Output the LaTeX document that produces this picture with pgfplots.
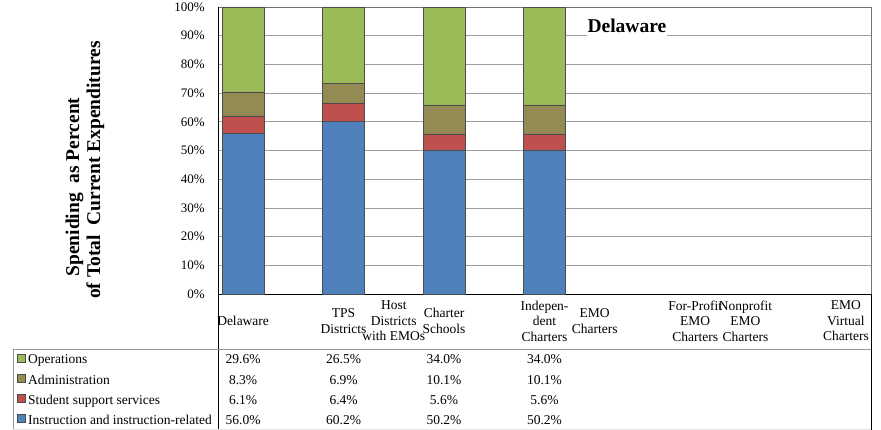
\documentclass[border=0pt]{standalone}
\usepackage{fontspec}
\setmainfont{Liberation Serif}
\usepackage{pgfplots}
\pgfplotsset{compat=1.18}
\definecolor{cOps}{HTML}{9BBB59}
\definecolor{cAdm}{HTML}{948A54}
\definecolor{cStu}{HTML}{C0504D}
\definecolor{cIns}{HTML}{4F81BD}
\newcommand{\tickfont}{\fontsize{13}{15.5}\selectfont}
\newcommand{\tabfont}{\fontsize{13.5}{15.5}\selectfont}

\begin{document}
\begin{tikzpicture}
\useasboundingbox (-218pt,-136pt) rectangle (663pt,294pt);
\begin{axis}[
  at={(0pt,0pt)}, anchor=south west,
  width=653pt, height=287pt, scale only axis,
  ybar stacked, bar width=42pt,
  xmin=-0.5, xmax=12.5, ymin=0, ymax=100,
  clip=false,
  axis line style={draw=black!55},
  major tick length=0pt,
  ymajorgrids, major grid style={draw=black!38, line width=0.6pt},
  ytick={0,10,...,100},
  yticklabels={0\%,10\%,20\%,30\%,40\%,50\%,60\%,70\%,80\%,90\%,100\%},
  yticklabel style={font=\tickfont, inner sep=0pt, xshift=-13pt},
  xtick={0,2,3,4,6,7,9,10,12},
  xticklabels={Delaware, TPS\\Districts, Host\\Districts\\with EMOs, Charter\\Schools,
    Indepen-\\dent\\Charters, EMO\\Charters, For-Profit\\EMO\\Charters,
    Nonprofit\\EMO\\Charters, EMO\\Virtual\\Charters},
  xticklabel style={font=\tabfont, align=center, anchor=center, inner sep=0pt, yshift=-27pt},
  ylabel={Speniding~ as Percent\hphantom{\rule{34pt}{0pt}}\\of Total~ Current Expenditures},
  ylabel style={at={(axis description cs:-0.2037,0.432)}, anchor=center, align=center,
    font=\fontsize{19.5}{21}\selectfont\bfseries},
  every axis plot/.append style={draw=black!70, line width=0.4pt},
]
\addplot[fill=cIns] coordinates {(0,56.0) (2,60.2) (4,50.2) (6,50.2)};
\addplot[fill=cStu] coordinates {(0,6.1) (2,6.4) (4,5.6) (6,5.6)};
\addplot[fill=cAdm] coordinates {(0,8.3) (2,6.9) (4,10.1) (6,10.1)};
\addplot[fill=cOps] coordinates {(0,29.6) (2,26.5) (4,34.0) (6,34.0)};

% chart title over the gridline
\node[font=\fontsize{19.5}{21}\selectfont\bfseries, fill=white, inner xsep=1pt, inner ysep=0pt,
  text height=14pt, text depth=6pt, anchor=base] at (axis cs:7.64,90.94) {Delaware};

% data table frame
\draw[black!40, line width=1pt] (axis cs:-4.581,-19.2) -- (axis cs:12.5,-19.2);
\draw[black!40] (axis cs:-4.581,-19.2) -- (axis cs:-4.581,-47.2);
\draw[black!10] (axis cs:-4.581,-47.2) -- (axis cs:12.5,-47.2);
\draw[black] (axis cs:-0.5,100) -- (axis cs:-0.5,-47.4);
\draw[black] (axis cs:12.5,0) -- (axis cs:12.5,-47.4);
\draw[black] (axis cs:-0.5,0) -- (axis cs:12.5,0);

% legend keys of the data table
\draw[draw=black!70, fill=cOps] ([yshift=2pt]axis cs:-4.5016,-24.39) rectangle ++(8pt,8pt);
\draw[draw=black!70, fill=cAdm] ([yshift=2pt]axis cs:-4.5016,-31.36) rectangle ++(8pt,8pt);
\draw[draw=black!70, fill=cStu] ([yshift=2pt]axis cs:-4.5016,-38.33) rectangle ++(8pt,8pt);
\draw[draw=black!70, fill=cIns] ([yshift=2pt]axis cs:-4.5016,-45.30) rectangle ++(8pt,8pt);
\node[font=\tabfont, anchor=base west, inner sep=0pt] at (axis cs:-4.283,-24.39) {Operations};
\node[font=\tabfont, anchor=base west, inner sep=0pt] at (axis cs:-4.283,-31.36) {Administration};
\node[font=\tabfont, anchor=base west, inner sep=0pt] at (axis cs:-4.283,-38.33) {Student support services};
\node[font=\tabfont, anchor=base west, inner sep=0pt] at (axis cs:-4.283,-45.30) {Instruction and instruction-related};

% data table values
\node[font=\tabfont, anchor=base, inner sep=0pt] at (axis cs:0,-24.39) {29.6\%};
\node[font=\tabfont, anchor=base, inner sep=0pt] at (axis cs:2,-24.39) {26.5\%};
\node[font=\tabfont, anchor=base, inner sep=0pt] at (axis cs:4,-24.39) {34.0\%};
\node[font=\tabfont, anchor=base, inner sep=0pt] at (axis cs:6,-24.39) {34.0\%};
\node[font=\tabfont, anchor=base, inner sep=0pt] at (axis cs:0,-31.36) {8.3\%};
\node[font=\tabfont, anchor=base, inner sep=0pt] at (axis cs:2,-31.36) {6.9\%};
\node[font=\tabfont, anchor=base, inner sep=0pt] at (axis cs:4,-31.36) {10.1\%};
\node[font=\tabfont, anchor=base, inner sep=0pt] at (axis cs:6,-31.36) {10.1\%};
\node[font=\tabfont, anchor=base, inner sep=0pt] at (axis cs:0,-38.33) {6.1\%};
\node[font=\tabfont, anchor=base, inner sep=0pt] at (axis cs:2,-38.33) {6.4\%};
\node[font=\tabfont, anchor=base, inner sep=0pt] at (axis cs:4,-38.33) {5.6\%};
\node[font=\tabfont, anchor=base, inner sep=0pt] at (axis cs:6,-38.33) {5.6\%};
\node[font=\tabfont, anchor=base, inner sep=0pt] at (axis cs:0,-45.30) {56.0\%};
\node[font=\tabfont, anchor=base, inner sep=0pt] at (axis cs:2,-45.30) {60.2\%};
\node[font=\tabfont, anchor=base, inner sep=0pt] at (axis cs:4,-45.30) {50.2\%};
\node[font=\tabfont, anchor=base, inner sep=0pt] at (axis cs:6,-45.30) {50.2\%};
\end{axis}
\end{tikzpicture}
\end{document}
